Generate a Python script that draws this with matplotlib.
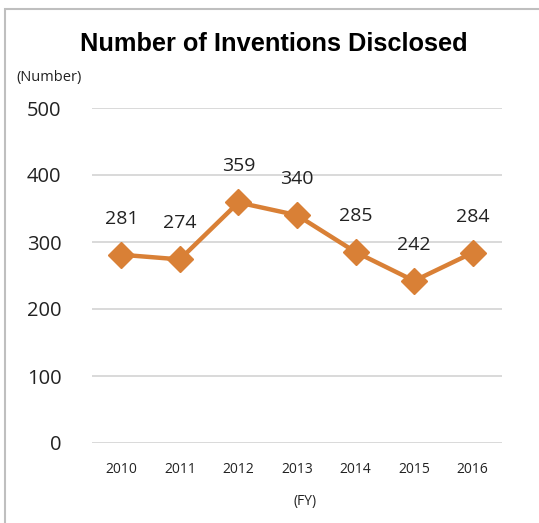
import matplotlib
matplotlib.use('Agg')
import matplotlib.pyplot as plt
from matplotlib.patches import Rectangle

years = ['2010', '2011', '2012', '2013', '2014', '2015', '2016']
inventions = [281, 274, 359, 340, 285, 242, 284]
yticks = [0, 100, 200, 300, 400, 500]

line_color = '#D98036'
grid_color = '#D9D9D9'
text_color = '#222222'

fig = plt.figure(figsize=(5.39, 5.23), dpi=100)
fig.patch.set_facecolor('white')

# outer chart frame
fig.add_artist(Rectangle((5 / 539, -0.05), 1.0, 1 - 9 / 523 + 0.05,
                         transform=fig.transFigure, fill=False,
                         edgecolor='#BFBFBF', linewidth=1.5))

ax = fig.add_axes([92 / 539, 1 - 443 / 523, 410 / 539, 335 / 523])
x = list(range(len(years)))
ax.plot(x, inventions, color=line_color, linewidth=3.2, marker='D',
        markersize=13, markerfacecolor=line_color, markeredgecolor=line_color,
        zorder=3)

for xi, v in zip(x, inventions):
    ax.annotate(str(v), (xi, v), xytext=(0, 26), textcoords='offset points',
                ha='center', va='center', fontsize=14, color=text_color,
                family='Open Sans')

ax.set_xlim(-0.5, len(years) - 0.5)
ax.set_ylim(0, 500)
ax.set_yticks(yticks)
ax.set_xticks(x)
ax.set_xticklabels(years)
ax.grid(axis='y', color=grid_color, linewidth=1.4)
ax.set_axisbelow(True)
for s in ax.spines.values():
    s.set_visible(False)
ax.tick_params(axis='both', length=0)
ax.tick_params(axis='y', pad=22, labelsize=14.5, labelcolor=text_color)
ax.tick_params(axis='x', pad=14, labelsize=10, labelcolor=text_color)
for lbl in ax.get_yticklabels() + ax.get_xticklabels():
    lbl.set_family('Open Sans')

fig.text(274 / 539, 1 - 44 / 523, 'Number of Inventions Disclosed',
         ha='center', va='center', fontsize=18.3, fontweight='bold',
         family='Liberation Sans', color='black')
fig.text(49 / 539, 1 - 77 / 523, '(Number)', ha='center', va='center',
         fontsize=10.5, family='Open Sans', color=text_color)
fig.text(305 / 539, 1 - 502 / 523, '(FY)', ha='center', va='center',
         fontsize=10, family='Open Sans', color=text_color)

fig.savefig('out.png', dpi=100)
